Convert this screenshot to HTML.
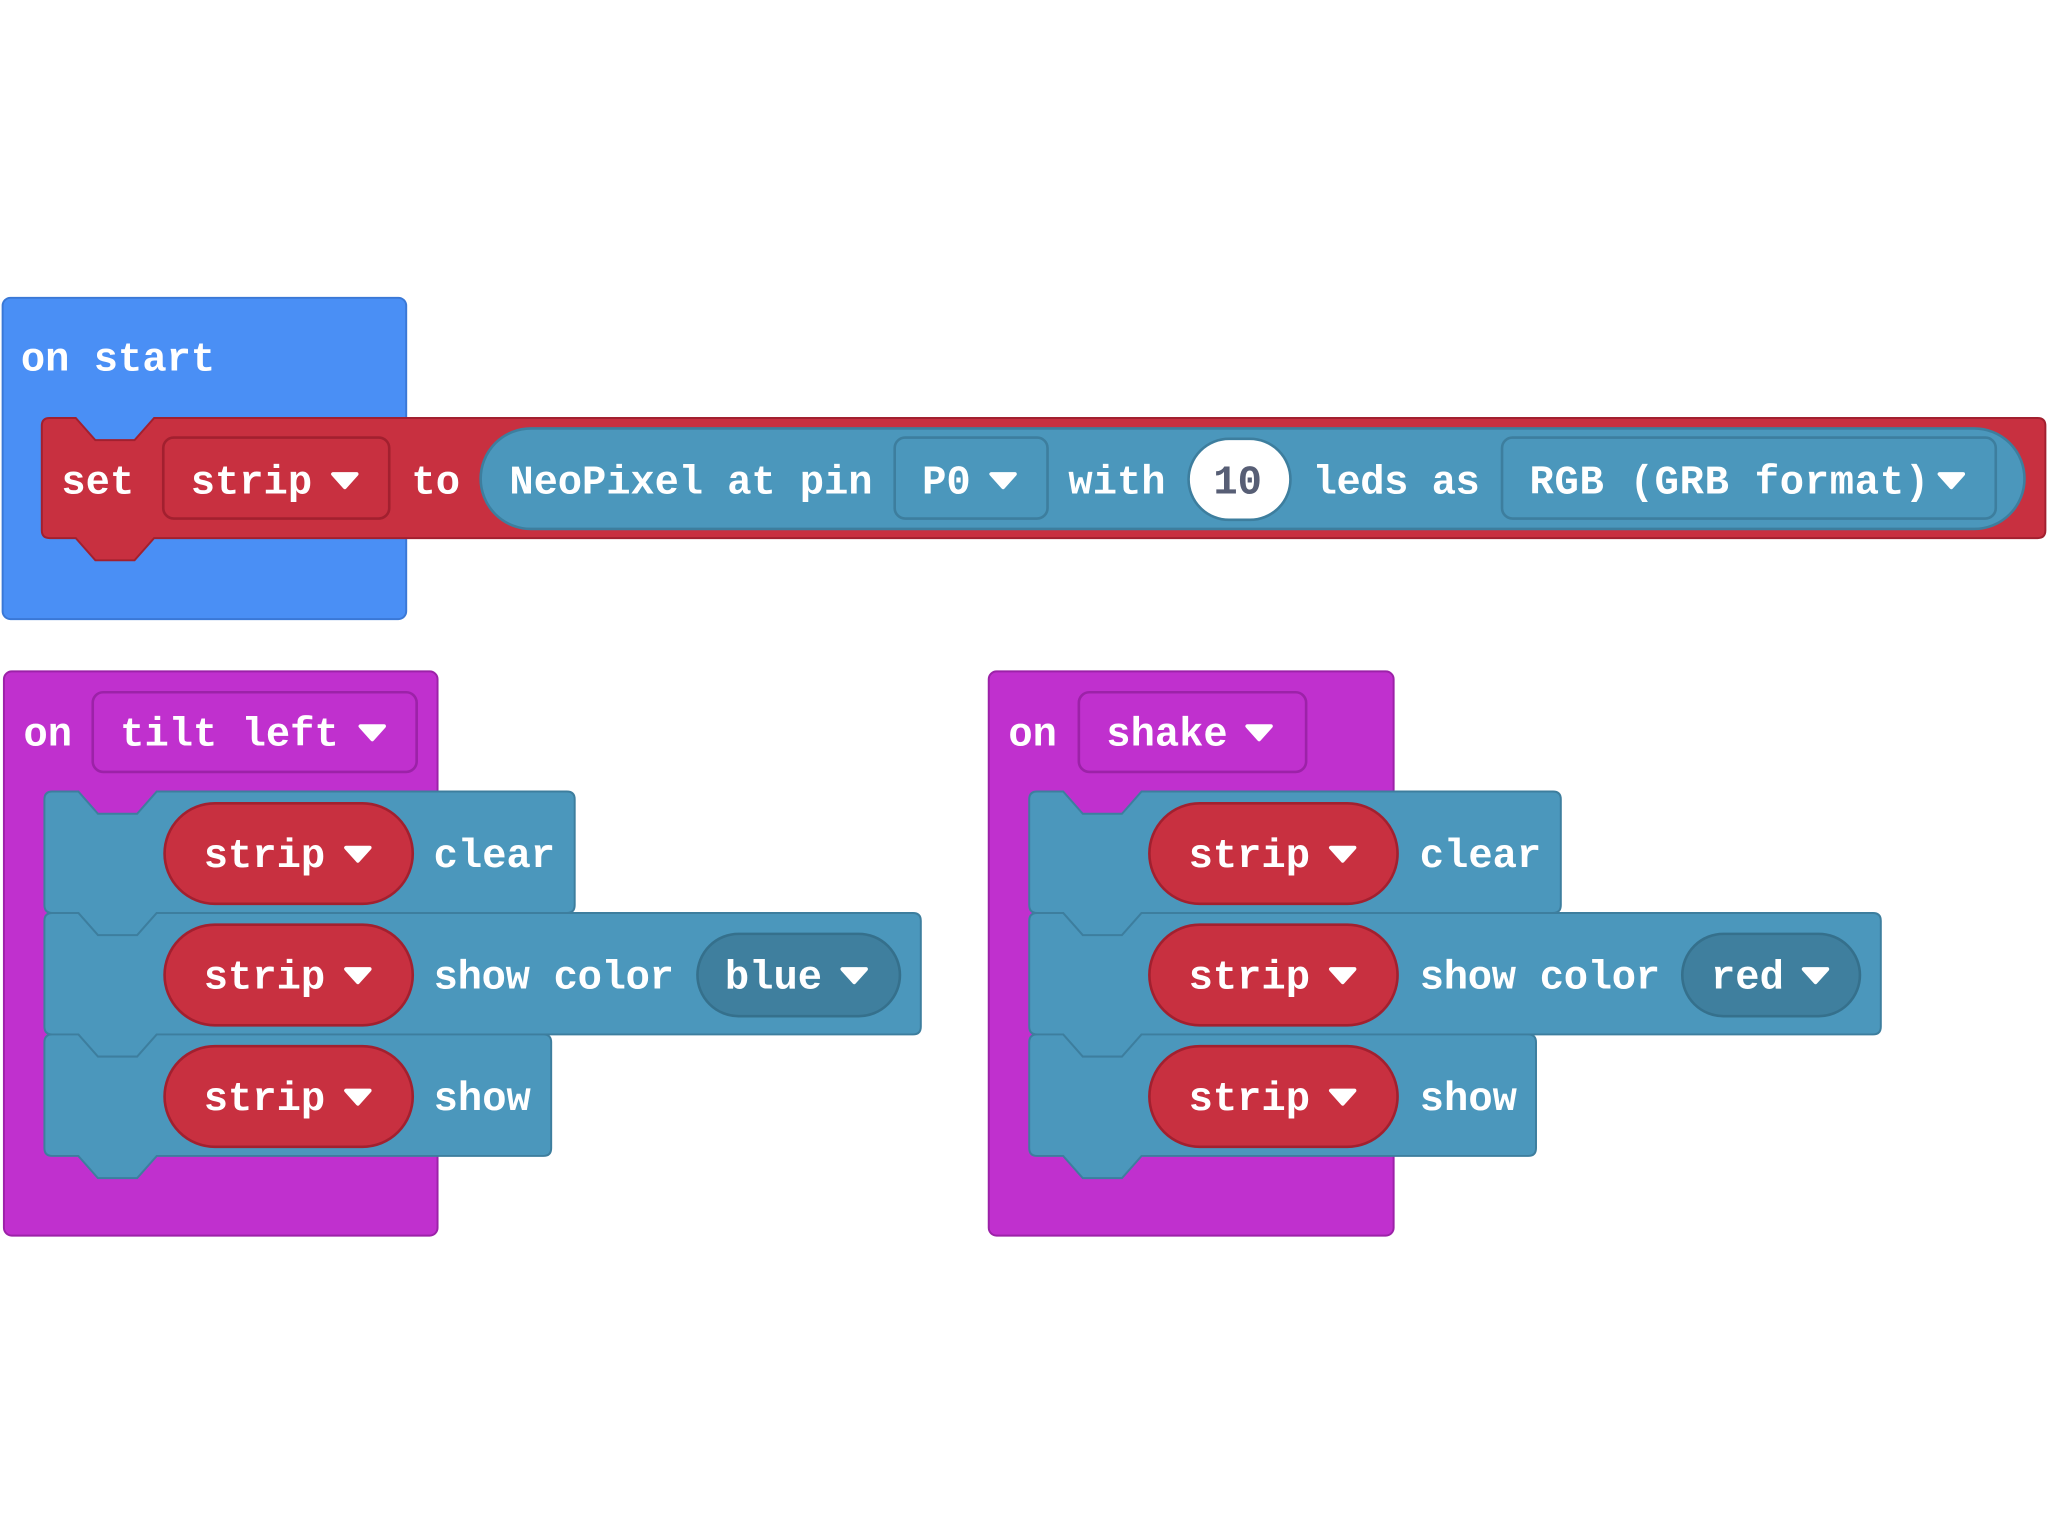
<!DOCTYPE html>
<html><head><meta charset="utf-8"><style>
html,body{margin:0;padding:0;background:#fff;}
svg{display:block;}
text{font-family:"Liberation Mono","DejaVu Sans Mono",monospace;font-size:31px;font-weight:bold;fill:#fff;dominant-baseline:central;}
.arr{fill:#fff;stroke:#fff;stroke-width:3;stroke-linejoin:round;}
</style></head><body>
<svg width="2048" height="1536" viewBox="0 0 1568 1176" xmlns="http://www.w3.org/2000/svg">
<g>
<rect x="2" y="228" width="309" height="246" rx="6" fill="#4A8FF5" stroke="#3A78D6" stroke-width="1.5"/>
<text x="16" y="274" dy="2">on start</text>
<path d="M32,326 Q32,320 38,320 H58 L73,337 H103 L118,320 H1560 Q1566,320 1566,326 V406 Q1566,412 1560,412 H118 L103,429 H73 L58,412 H38 Q32,412 32,406 Z" fill="#C83040" stroke="#A2202F" stroke-width="1.5"/>
<text x="47" y="368" dy="2">set</text>
<rect x="125" y="335" width="173" height="62" rx="8" fill="#C83040" stroke="#A2202F" stroke-width="2"/>
<text x="146" y="368" dy="2">strip</text>
<path class="arr" d="M255,363 L273,363 L264,373 Z"/>
<text x="315" y="368" dy="2">to</text>
<rect x="368" y="328" width="1182" height="77" rx="38.5" fill="#4B97BC" stroke="#3D7E9E" stroke-width="2"/>
<text x="390" y="368" dy="2" textLength="278">NeoPixel at pin</text>
<rect x="685" y="335" width="117" height="62" rx="8" fill="#4B97BC" stroke="#3D7E9E" stroke-width="2"/>
<text x="706" y="368" dy="2">P0</text>
<path class="arr" d="M759,363 L777,363 L768,373 Z"/>
<text x="818" y="368" dy="2">with</text>
<rect x="910" y="336" width="78" height="62" rx="31" fill="#fff" stroke="#3D7E9E" stroke-width="2"/>
<text x="929" y="368" dy="2" style="fill:#575E75">10</text>
<text x="1005" y="368" dy="2" textLength="128">leds as</text>
<rect x="1150" y="335" width="378" height="62" rx="8" fill="#4B97BC" stroke="#3D7E9E" stroke-width="2"/>
<text x="1171" y="368" dy="2" textLength="306">RGB (GRB format)</text>
<path class="arr" d="M1485,363 L1503,363 L1494,373 Z"/>

<rect x="3" y="514" width="332" height="432" rx="6" fill="#C030CE" stroke="#9C22A8" stroke-width="1.5"/>
<text x="18" y="561" dy="2">on</text>
<rect x="71" y="530" width="248" height="61" rx="8" fill="#C030CE" stroke="#9C22A8" stroke-width="2"/>
<text x="92" y="561" dy="2">tilt left</text>
<path class="arr" d="M276,556 L294,556 L285,566 Z"/>

<path d="M34,612 Q34,606 40,606 H60 L75,623 H105 L120,606 H434 Q440,606 440,612 V693 Q440,699 434,699 H120 L105,716 H75 L60,699 H40 Q34,699 34,693 Z" fill="#4B97BC" stroke="#3D7E9E" stroke-width="1.5"/>
<rect x="126" y="615" width="190" height="77" rx="38.5" fill="#C83040" stroke="#A2202F" stroke-width="2"/>
<text x="156" y="654" dy="2">strip</text>
<path class="arr" d="M265,649 L283,649 L274,659 Z"/>
<text x="332" y="654" dy="2">clear</text>

<path d="M34,705 Q34,699 40,699 H60 L75,716 H105 L120,699 H699 Q705,699 705,705 V786 Q705,792 699,792 H120 L105,809 H75 L60,792 H40 Q34,792 34,786 Z" fill="#4B97BC" stroke="#3D7E9E" stroke-width="1.5"/>
<rect x="126" y="708" width="190" height="77" rx="38.5" fill="#C83040" stroke="#A2202F" stroke-width="2"/>
<text x="156" y="747" dy="2">strip</text>
<path class="arr" d="M265,742 L283,742 L274,752 Z"/>
<text x="332" y="747" dy="2" textLength="184">show color</text>
<rect x="534" y="715" width="155" height="63" rx="31.5" fill="#3F7F9E" stroke="#35708C" stroke-width="2"/>
<text x="555" y="747" dy="2">blue</text>
<path class="arr" d="M645,742 L663,742 L654,752 Z"/>

<path d="M34,798 Q34,792 40,792 H60 L75,809 H105 L120,792 H416 Q422,792 422,798 V879 Q422,885 416,885 H120 L105,902 H75 L60,885 H40 Q34,885 34,879 Z" fill="#4B97BC" stroke="#3D7E9E" stroke-width="1.5"/>
<rect x="126" y="801" width="190" height="77" rx="38.5" fill="#C83040" stroke="#A2202F" stroke-width="2"/>
<text x="156" y="840" dy="2">strip</text>
<path class="arr" d="M265,835 L283,835 L274,845 Z"/>
<text x="332" y="840" dy="2">show</text>

<rect x="757" y="514" width="310" height="432" rx="6" fill="#C030CE" stroke="#9C22A8" stroke-width="1.5"/>
<text x="772" y="561" dy="2">on</text>
<rect x="826" y="530" width="174" height="61" rx="8" fill="#C030CE" stroke="#9C22A8" stroke-width="2"/>
<text x="847" y="561" dy="2">shake</text>
<path class="arr" d="M955,556 L973,556 L964,566 Z"/>

<path d="M788,612 Q788,606 794,606 H814 L829,623 H859 L874,606 H1189 Q1195,606 1195,612 V693 Q1195,699 1189,699 H874 L859,716 H829 L814,699 H794 Q788,699 788,693 Z" fill="#4B97BC" stroke="#3D7E9E" stroke-width="1.5"/>
<rect x="880" y="615" width="190" height="77" rx="38.5" fill="#C83040" stroke="#A2202F" stroke-width="2"/>
<text x="910" y="654" dy="2">strip</text>
<path class="arr" d="M1019,649 L1037,649 L1028,659 Z"/>
<text x="1087" y="654" dy="2">clear</text>

<path d="M788,705 Q788,699 794,699 H814 L829,716 H859 L874,699 H1434 Q1440,699 1440,705 V786 Q1440,792 1434,792 H874 L859,809 H829 L814,792 H794 Q788,792 788,786 Z" fill="#4B97BC" stroke="#3D7E9E" stroke-width="1.5"/>
<rect x="880" y="708" width="190" height="77" rx="38.5" fill="#C83040" stroke="#A2202F" stroke-width="2"/>
<text x="910" y="747" dy="2">strip</text>
<path class="arr" d="M1019,742 L1037,742 L1028,752 Z"/>
<text x="1087" y="747" dy="2" textLength="184">show color</text>
<rect x="1288" y="715" width="136" height="63" rx="31.5" fill="#3F7F9E" stroke="#35708C" stroke-width="2"/>
<text x="1310" y="747" dy="2">red</text>
<path class="arr" d="M1381,742 L1399,742 L1390,752 Z"/>

<path d="M788,798 Q788,792 794,792 H814 L829,809 H859 L874,792 H1170 Q1176,792 1176,798 V879 Q1176,885 1170,885 H874 L859,902 H829 L814,885 H794 Q788,885 788,879 Z" fill="#4B97BC" stroke="#3D7E9E" stroke-width="1.5"/>
<rect x="880" y="801" width="190" height="77" rx="38.5" fill="#C83040" stroke="#A2202F" stroke-width="2"/>
<text x="910" y="840" dy="2">strip</text>
<path class="arr" d="M1019,835 L1037,835 L1028,845 Z"/>
<text x="1087" y="840" dy="2">show</text>
</g>
</svg>
</body></html>
